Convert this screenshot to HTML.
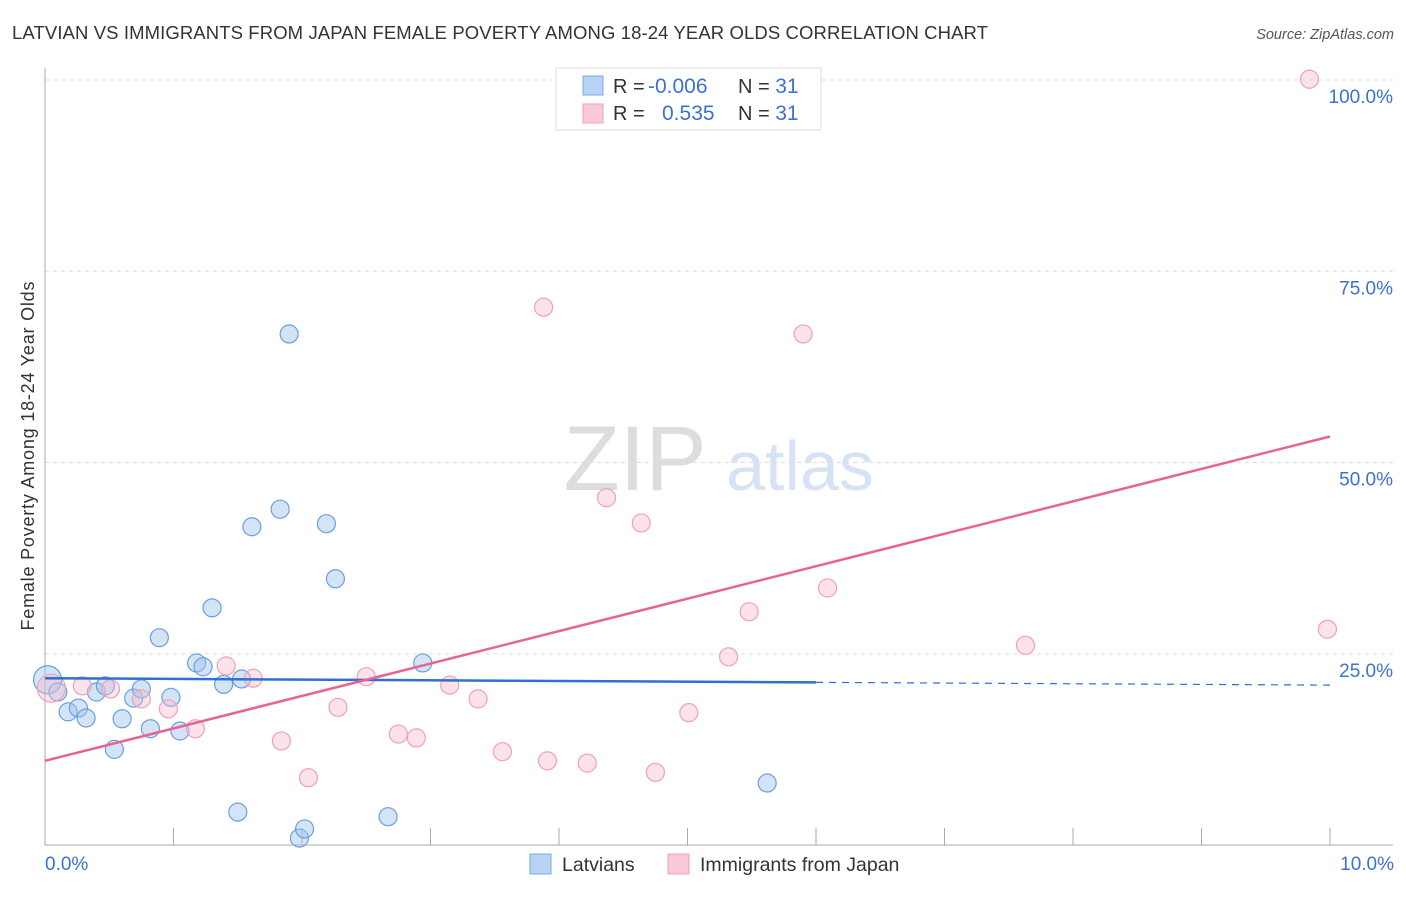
<!DOCTYPE html>
<html><head><meta charset="utf-8"><style>
body{margin:0;background:#fff;font-family:"Liberation Sans",sans-serif;}
svg text{font-family:"Liberation Sans",sans-serif;}
</style></head><body>
<svg id="chart" width="1406" height="892">
<text x="12" y="39" font-size="18.5" fill="#333" textLength="976">LATVIAN VS IMMIGRANTS FROM JAPAN FEMALE POVERTY AMONG 18-24 YEAR OLDS CORRELATION CHART</text>
<text x="1394" y="39" font-size="14.5" fill="#555" font-style="italic" text-anchor="end">Source: ZipAtlas.com</text>
<text x="34" y="456" font-size="18" fill="#333" text-anchor="middle" textLength="349" transform="rotate(-90 34 456)">Female Poverty Among 18-24 Year Olds</text>
<g><text x="635" y="490" font-size="92" fill="#ddd" font-family="Liberation Serif" text-anchor="middle">ZIP</text><text x="800" y="490" font-size="70" fill="#d6e3f4" text-anchor="middle">atlas</text></g>
<g id="grid"></g><g id="pts"></g><g id="lines"></g>
<g>
<rect x="556" y="68" width="265" height="62" fill="#fff" stroke="#ddd"/>
<rect x="583" y="76" width="20" height="19" fill="#b8d3f5" stroke="#7aa8e6"/>
<rect x="583" y="104" width="20" height="19" fill="#fac8d8" stroke="#f0a0b8"/>
<text x="613" y="93" font-size="20" fill="#333">R = <tspan x="648" fill="#3a72d0" font-size="21">-0.006</tspan><tspan x="738">N = </tspan><tspan fill="#3a72d0" font-size="21">31</tspan></text>
<text x="613" y="120" font-size="20" fill="#333">R = <tspan x="662" fill="#3a72d0" font-size="21">0.535</tspan><tspan x="738">N = </tspan><tspan fill="#3a72d0" font-size="21">31</tspan></text>
</g>
<g>
<rect x="530" y="854" width="21" height="20" fill="#b8d3f5" stroke="#7aa8e6"/>
<text x="562" y="871" font-size="19.5" fill="#333">Latvians</text>
<rect x="668" y="854" width="21" height="20" fill="#fac8d8" stroke="#f0a0b8"/>
<text x="700" y="871" font-size="19.5" fill="#333">Immigrants from Japan</text>
</g>
<text x="45" y="870" font-size="19" fill="#3a72d0">0.0%</text>
<text x="1394" y="870" font-size="19" fill="#3a72d0" text-anchor="end">10.0%</text>
</svg>
<script>
const yTicks=[100,75,50,25];
const yTickLabels=["100.0%","75.0%","50.0%","25.0%"];
const xTicks=[0,1,2,3,4,5,6,7,8,9,10];
const latX=[0.02,0.10,0.18,0.26,0.32,0.40,0.47,0.54,0.60,0.69,0.75,0.82,0.89,0.98,1.05,1.18,1.23,1.30,1.39,1.50,1.53,1.61,1.83,1.98,2.02,2.19,2.26,2.67,2.94,5.62,1.90];
const latY=[21.6,20.0,17.4,17.9,16.6,20.0,20.8,12.5,16.5,19.2,20.4,15.2,27.1,19.3,14.9,23.8,23.3,31.0,21.0,4.3,21.7,41.6,43.9,0.9,2.1,42.0,34.8,3.7,23.8,8.1,66.8];
const jpX=[0.05,0.29,0.51,0.75,0.96,1.17,1.41,1.62,1.84,2.05,2.28,2.50,2.75,2.89,3.15,3.37,3.56,3.88,3.91,4.22,4.37,4.64,4.75,5.01,5.32,5.48,5.90,6.09,7.63,9.84,9.98];
const jpY=[20.5,20.8,20.4,19.1,17.8,15.2,23.4,21.8,13.6,8.8,18.0,22.0,14.5,14.0,20.9,19.1,12.2,70.3,11.0,10.7,45.4,42.1,9.5,17.3,24.6,30.5,66.8,33.6,26.1,100.1,28.2];
const latTrend=[21.8,20.9];
const jpTrend=[11.0,53.4];
const NS='http://www.w3.org/2000/svg';
const sx=v=>45+v*128.5, sy=v=>845-v*7.65;
function mk(t,a,p){const e=document.createElementNS(NS,t);for(const k in a)e.setAttribute(k,a[k]);p.appendChild(e);return e;}
const g=document.getElementById('grid');
yTicks.forEach((t,i)=>{
 const l=mk('line',{x1:45,x2:1393,y1:sy(t),y2:sy(t),stroke:'#ddd','stroke-dasharray':'4,4'},g);
 
 
 const tx=mk('text',{x:1393,y:sy(t)+23,'font-size':19,fill:'#3a72d0','text-anchor':'end'},g);
 tx.textContent=yTickLabels[i];
 
 
});
const ax=mk('path',{d:'M45 68V845H1393',stroke:'#aaa',fill:'none'},g);


xTicks.forEach(t=>{
 const l=mk('line',{x1:sx(t),x2:sx(t),y1:828,y2:845,stroke:'#aaa'},g);
 
 
});
const p=document.getElementById('pts');
latX.forEach((x,i)=>{
 const c=mk('circle',{cx:sx(x),cy:sy(latY[i]),r:i==0?14:9,fill:'rgba(160,195,238,0.45)',stroke:'#6a9fe0','stroke-width':1.2},p);
 
 
});
jpX.forEach((x,i)=>{
 const c=mk('circle',{cx:sx(x),cy:sy(jpY[i]),r:i==0?14:9,fill:'rgba(248,185,205,0.4)',stroke:'#f0a0b8','stroke-width':1.2},p);
 
 
});
const L=document.getElementById('lines');
const ly=x=>latTrend[0]+(latTrend[1]-latTrend[0])*x/10;
const b1=mk('line',{x1:sx(0),y1:sy(ly(0)),x2:sx(6),y2:sy(ly(6)),stroke:'#2f6fd6','stroke-width':2.5},L);


const b2=mk('line',{x1:sx(6),y1:sy(ly(6)),x2:sx(10),y2:sy(ly(10)),stroke:'#2f6fd6','stroke-width':1.2,'stroke-dasharray':'7,6'},L);


const pl=mk('line',{x1:sx(0),y1:sy(jpTrend[0]),x2:sx(10),y2:sy(jpTrend[1]),stroke:'#e8648f','stroke-width':2.5},L);


</script>
</body></html>
